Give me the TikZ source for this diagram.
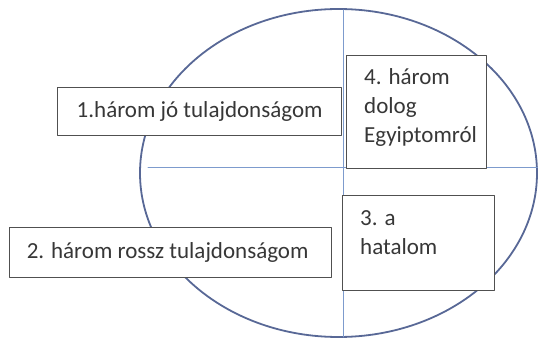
\documentclass[tikz,border=0pt]{standalone}
\usepackage{fontspec}
\setmainfont{Carlito}
\definecolor{ringblue}{RGB}{88,104,150}
\definecolor{axisblue}{RGB}{125,155,205}
\definecolor{boxgray}{RGB}{80,80,80}
\definecolor{textgray}{RGB}{55,55,55}
\tikzset{
  cell/.style={draw=boxgray, line width=1.3pt, fill=white, inner sep=0pt, anchor=north west},
  celltext/.style={text=textgray, font=\fontsize{23}{29}\selectfont},
  corner/.style={celltext, anchor=north west, align=left, inner sep=0pt}
}
\begin{document}
\begin{tikzpicture}[line cap=round,line join=round,x=1pt,y=-1pt]
\useasboundingbox (0,0) rectangle (538,339);
% Ellipse und Achsen
\draw[ringblue, line width=1.8pt] (338.5,173) ellipse [x radius=198.5, y radius=164];
\coordinate (hl) at (148,168);
\coordinate (hr) at (538,168);
\coordinate (vt) at (343,10);
\coordinate (vb) at (343,337);
\draw[axisblue, line width=1pt] (hl) -- (hr); % horizontale Achse
\draw[axisblue, line width=1pt] (vt) -- (vb); % vertikale Achse

% Kaestchen
\node[cell, minimum width=284, minimum height=48] (eins) at (57,87) {};
\node[cell, minimum width=322, minimum height=50] (zwei) at (9,227) {};
\node[cell, minimum width=152, minimum height=95] (drei) at (342,195) {};
\node[cell, minimum width=140, minimum height=113] (vier) at (346,55) {};

% Beschriftungen
\node[celltext] at (eins.center) {1.három jó tulajdonságom};
\node[celltext] at ([xshift=-3]zwei.center) {2. három rossz tulajdonságom};
\node[corner] at ([shift={(18,15)}]drei.north west) {3. a\\hatalom};
\node[corner] at ([shift={(18,13)}]vier.north west) {4. három\\dolog\\Egyiptomról};
\end{tikzpicture}
\end{document}
